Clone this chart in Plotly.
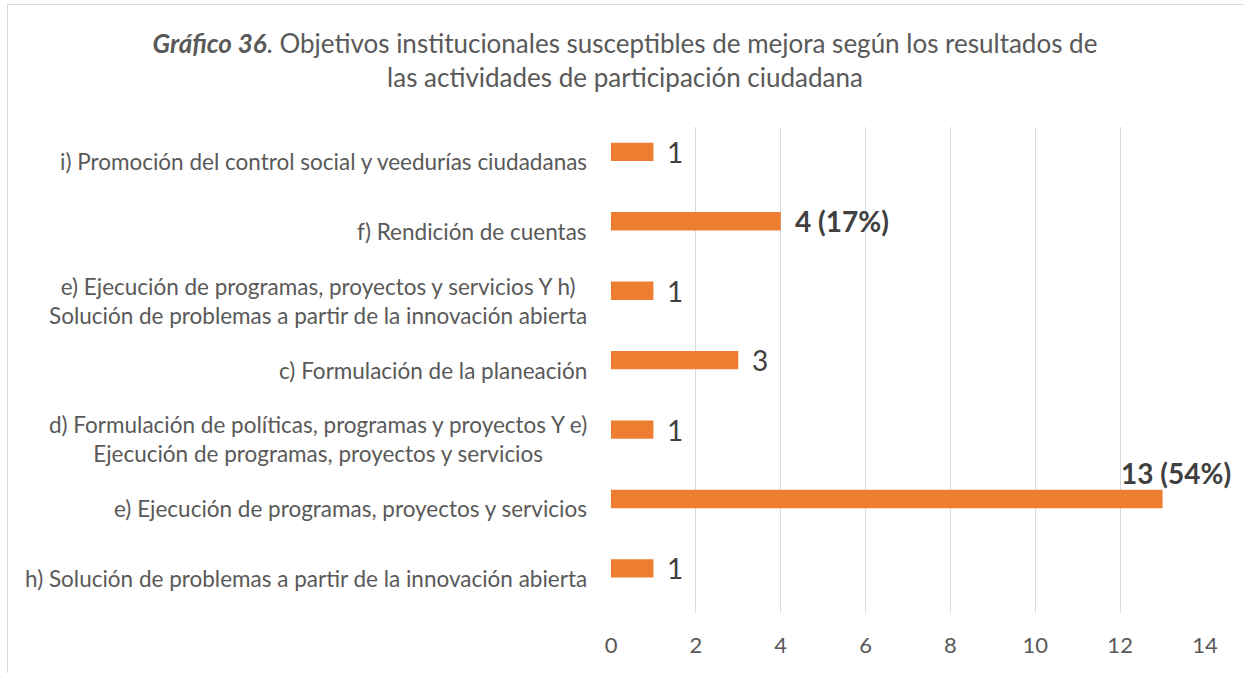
import plotly.graph_objects as go

# Categories listed from bottom to top of the chart
categories = [
    "h) Solución de problemas a partir de la innovación abierta",
    "e) Ejecución de programas, proyectos y servicios",
    "d) Formulación de políticas, programas y proyectos Y e)<br>Ejecución de programas, proyectos y servicios",
    "c) Formulación de la planeación",
    "e) Ejecución de programas, proyectos y servicios Y h)<br>Solución de problemas a partir de la innovación abierta",
    "f) Rendición de cuentas",
    "i) Promoción del control social y veedurías ciudadanas",
]
values = [1, 13, 1, 3, 1, 4, 1]
show_pct = [False, True, False, False, False, True, False]
x_ticks = [0, 2, 4, 6, 8, 10, 12, 14]

total = sum(values)
positions = list(range(len(categories)))

W, H = 1244, 673
ML, MR, MT, MB = 611, 39, 127, 60
pw, ph = W - ML - MR, H - MT - MB

FONT = "Lato"
GREY = "#595959"
DARK = "#404040"
ORANGE = "#ED7D31"

BAR_W = 0.264
BAR_OFF = 0.01
bar_mid = BAR_OFF + BAR_W / 2

fig = go.Figure()
fig.add_trace(go.Bar(
    x=values,
    y=positions,
    orientation="h",
    width=BAR_W,
    offset=BAR_OFF,
    marker=dict(color=ORANGE, line=dict(width=0)),
    hoverinfo="skip",
))

annotations = []
# category labels, centred lines, right edge next to the axis
for p, c in zip(positions, categories):
    annotations.append(dict(
        x=0, xref="paper", y=p, yref="y",
        text=c, showarrow=False, xanchor="right", yanchor="middle",
        align="center", xshift=-22,
        font=dict(family=FONT, size=22.5, color=GREY),
    ))

# value labels
for p, v, pct in zip(positions, values, show_pct):
    if pct:
        txt = f"<b>{v} ({round(100 * v / total)}%)</b>"
    else:
        txt = f"{v}"
    if v == max(values):
        annotations.append(dict(
            x=v, xref="x", y=p + bar_mid, yref="y", text=txt, showarrow=False,
            xanchor="center", yanchor="middle", xshift=13, yshift=26,
            font=dict(family=FONT, size=28, color=DARK),
        ))
    else:
        annotations.append(dict(
            x=v, xref="x", y=p + bar_mid, yref="y", text=txt, showarrow=False,
            xanchor="left", yanchor="middle", xshift=12,
            font=dict(family=FONT, size=28, color=DARK),
        ))

fig.update_layout(
    width=W, height=H,
    margin=dict(l=ML, r=MR, t=MT, b=MB, pad=0),
    paper_bgcolor="white", plot_bgcolor="white",
    showlegend=False,
    title=dict(
        text="<b><i>Gráfico 36</i></b>. Objetivos institucionales susceptibles de mejora según los resultados de<br>las actividades de participación ciudadana",
        x=625 / W, xref="container", xanchor="center",
        y=1 - 53 / H, yref="container", yanchor="middle",
        font=dict(family=FONT, size=26, color=GREY),
    ),
    annotations=annotations,
    shapes=[dict(
        type="rect", xref="paper", yref="paper",
        x0=(7.5 - ML) / pw, x1=(1252 - ML) / pw,
        y0=(H - MB - 682) / ph, y1=(H - MB - 4.5) / ph,
        line=dict(color="#d9d9d9", width=1), fillcolor="rgba(0,0,0,0)",
        layer="below",
    )],
)

fig.update_xaxes(
    range=[0, 14], tickvals=x_ticks, showgrid=True, gridcolor="#d9d9d9", gridwidth=1,
    zeroline=False, showline=False, ticks="", ticklabelstandoff=17,
    tickfont=dict(family=FONT, size=22, color=GREY), fixedrange=True,
)
fig.update_yaxes(
    range=[-0.5, 6.5], showgrid=False, zeroline=False, showline=False,
    showticklabels=False, fixedrange=True,
)

fig.write_html("out.html")
